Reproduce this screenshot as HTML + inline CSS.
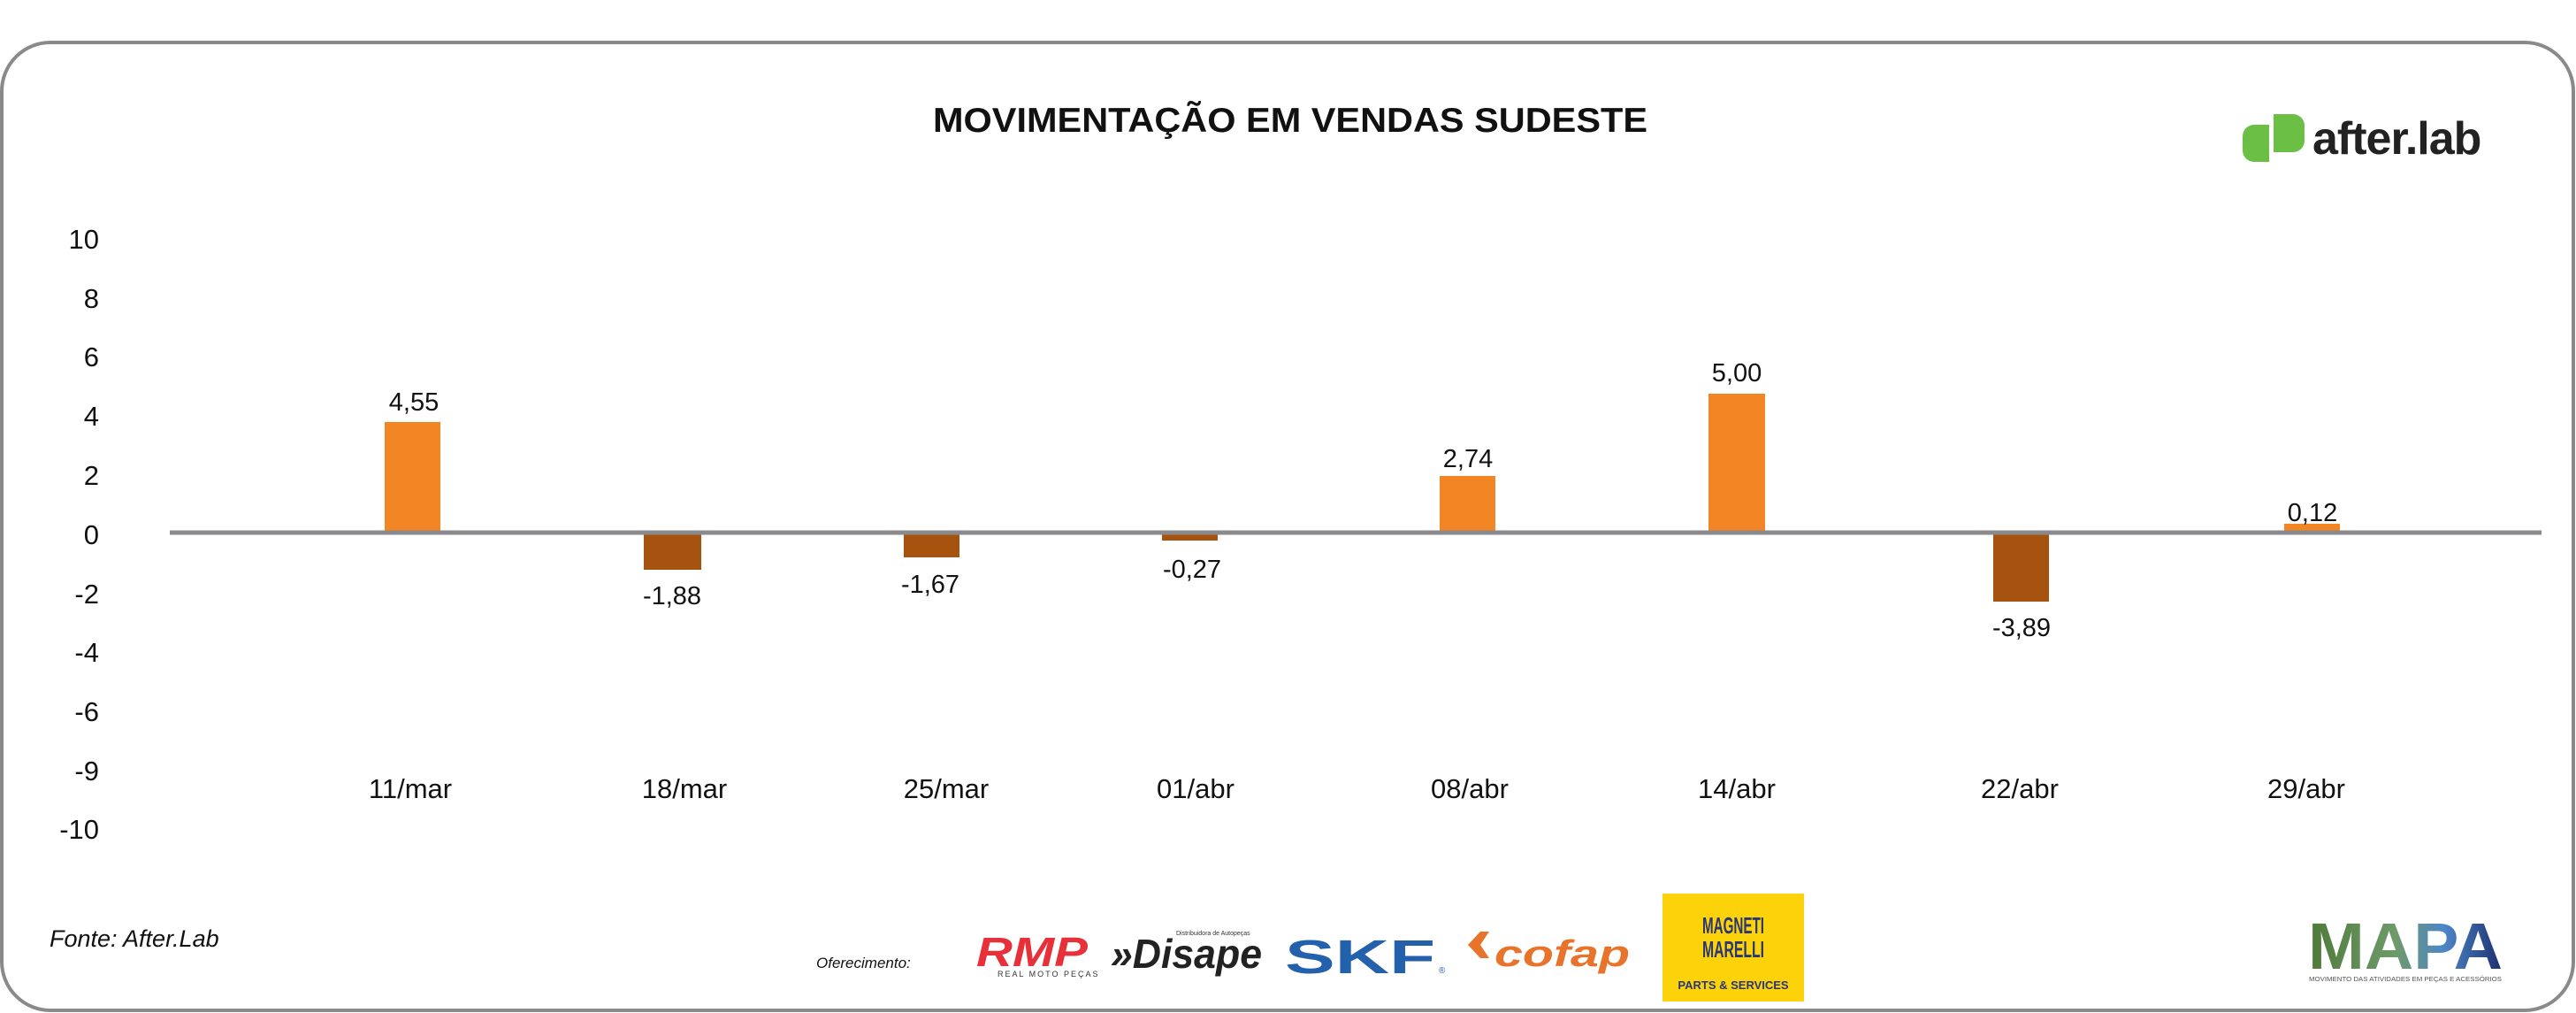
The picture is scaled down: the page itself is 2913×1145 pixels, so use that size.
<!DOCTYPE html>
<html><head><meta charset="utf-8"><style>
html,body{margin:0;padding:0;background:#fff;}
svg{display:block;}
text{font-family:"Liberation Sans",sans-serif;}
</style></head><body>
<svg width="2913" height="1145" viewBox="0 0 2913 1145" xmlns="http://www.w3.org/2000/svg">
<rect x="0" y="0" width="2913" height="1145" fill="#fff"/>
<rect x="2" y="48" width="2908" height="1094" rx="55" ry="55" fill="#fff" stroke="#8a8a8c" stroke-width="4"/>
<text x="1459" y="149" font-size="39" font-weight="bold" text-anchor="middle" fill="#111" textLength="808" lengthAdjust="spacingAndGlyphs">MOVIMENTAÇÃO EM VENDAS SUDESTE</text>
<!-- after.lab logo -->
<path d="M2571 129 h22 a13 13 0 0 1 13 13 v17 a13 13 0 0 1 -13 13 h-22 z" fill="#6cbf45"/>
<path d="M2566 141 v42 h-17 a13 13 0 0 1 -13 -13 v-16 a13 13 0 0 1 13 -13 z" fill="#6cbf45"/>
<text x="2615" y="174" font-size="52" font-weight="bold" fill="#222" letter-spacing="-1">after.lab</text>
<!-- y axis labels -->
<g font-size="31" fill="#111" text-anchor="end">
<text x="112" y="281">10</text><text x="112" y="348">8</text><text x="112" y="414">6</text>
<text x="112" y="481">4</text><text x="112" y="548">2</text><text x="112" y="615">0</text>
<text x="112" y="682">-2</text><text x="112" y="748">-4</text><text x="112" y="815">-6</text>
<text x="112" y="882">-9</text><text x="112" y="948">-10</text>
</g>
<!-- bars -->
<rect x="435" y="477" width="63" height="125" fill="#f28524"/>
<rect x="728" y="602" width="65" height="42" fill="#a5530e"/>
<rect x="1022" y="602" width="63" height="28" fill="#a5530e"/>
<rect x="1314" y="602" width="63" height="9" fill="#a5530e"/>
<rect x="1628" y="538" width="63" height="64" fill="#f28524"/>
<rect x="1932" y="445" width="64" height="157" fill="#f28524"/>
<rect x="2254" y="602" width="63" height="78" fill="#a5530e"/>
<rect x="2583" y="592" width="63" height="10" fill="#f28524"/>
<line x1="192" y1="602" x2="2874" y2="602" stroke="#8a8a8c" stroke-width="5"/>
<!-- value labels -->
<g font-size="29" fill="#111" text-anchor="middle">
<text x="468" y="464">4,55</text>
<text x="760" y="683">-1,88</text>
<text x="1052" y="670">-1,67</text>
<text x="1348" y="653">-0,27</text>
<text x="1660" y="528">2,74</text>
<text x="1964" y="431">5,00</text>
<text x="2286" y="719">-3,89</text>
<text x="2615" y="589">0,12</text>
</g>
<!-- category labels -->
<g font-size="31" fill="#111" text-anchor="middle">
<text x="464" y="902">11/mar</text><text x="774" y="902">18/mar</text>
<text x="1070" y="902">25/mar</text><text x="1352" y="902">01/abr</text>
<text x="1662" y="902">08/abr</text><text x="1964" y="902">14/abr</text>
<text x="2284" y="902">22/abr</text><text x="2608" y="902">29/abr</text>
</g>
<text x="56" y="1070" font-size="27" font-style="italic" fill="#111">Fonte: After.Lab</text>
<text x="923" y="1094" font-size="17" font-style="italic" fill="#111">Oferecimento:</text>
<!-- RMP -->
<text x="1104" y="1092" font-size="46" font-weight="bold" font-style="italic" fill="#e8303a" textLength="126" lengthAdjust="spacingAndGlyphs">RMP</text>
<text x="1128" y="1104" font-size="9" fill="#333" letter-spacing="2">REAL MOTO PEÇAS</text>
<!-- Disape -->
<text x="1256" y="1094" font-size="46" font-weight="bold" font-style="italic" fill="#222" textLength="171" lengthAdjust="spacingAndGlyphs">»Disape</text>
<text x="1330" y="1057" font-size="7" fill="#333">Distribuidora de Autopeças</text>
<!-- SKF -->
<text x="1453" y="1100" font-size="54" font-weight="bold" fill="#2461ad" textLength="170" lengthAdjust="spacingAndGlyphs">SKF</text>
<text x="1627" y="1100" font-size="10" fill="#2461ad">®</text>
<!-- cofap -->
<path d="M1660 1068 l14 -15 h10 l-10 15 l10 15 h-10 z" fill="#e8732a"/>
<text x="1690" y="1092" font-size="42" font-weight="bold" font-style="italic" fill="#e8732a" textLength="153" lengthAdjust="spacingAndGlyphs">cofap</text>
<!-- Magneti Marelli -->
<rect x="1880" y="1010" width="160" height="122" fill="#fcd20a"/>
<text x="1960" y="1055" font-size="26" font-weight="bold" fill="#2a3676" text-anchor="middle" textLength="70" lengthAdjust="spacingAndGlyphs">MAGNETI</text>
<text x="1960" y="1082" font-size="26" font-weight="bold" fill="#2a3676" text-anchor="middle" textLength="70" lengthAdjust="spacingAndGlyphs">MARELLI</text>
<text x="1960" y="1118" font-size="13" font-weight="bold" fill="#2a3676" text-anchor="middle">PARTS &amp; SERVICES</text>
<!-- MAPA -->
<defs><linearGradient id="mg" x1="0" x2="1" y1="0" y2="0"><stop offset="0" stop-color="#4f7a3a"/><stop offset="0.45" stop-color="#6e9a6a"/><stop offset="0.7" stop-color="#4d86c8"/><stop offset="1" stop-color="#1c2f6e"/></linearGradient></defs>
<text x="2610" y="1095" font-size="74" font-weight="bold" fill="url(#mg)" textLength="220" lengthAdjust="spacingAndGlyphs">MAPA</text>
<text x="2611" y="1109" font-size="7" fill="#555" textLength="218" lengthAdjust="spacingAndGlyphs">MOVIMENTO DAS ATIVIDADES EM PEÇAS E ACESSÓRIOS</text>
</svg>
</body></html>
